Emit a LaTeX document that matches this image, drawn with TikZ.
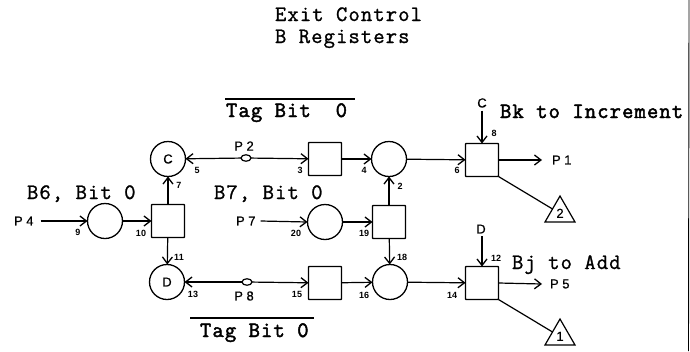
\documentclass[tikz,border=0pt]{standalone}
\usepackage{fontspec}
\setmainfont{Liberation Sans}
\newfontfamily\tw[LetterSpace=5,FakeBold=1.2]{Latin Modern Mono}
\newfontfamily\twb[LetterSpace=5,FakeBold=2.2]{Latin Modern Mono}
\newfontfamily\lb[FakeBold=0.6]{Liberation Sans}
\usetikzlibrary{arrows.meta,shapes.geometric}
\tikzset{
 x=1pt,y=-1pt,
 every node/.style={inner sep=0pt,outer sep=0pt},
 circ/.style={draw,circle,line width=1.3pt,minimum size=35pt},
 sq/.style={draw,rectangle,rounded corners=0.6pt,line width=1.3pt,minimum size=33pt},
 tap/.style={draw,ellipse,line width=1.2pt,minimum width=10pt,minimum height=6.5pt},
 tri/.style={draw,regular polygon,regular polygon sides=3,line width=1.2pt,minimum size=34.6pt},
 conn/.style={line width=1.2pt,-{Straight Barb[length=6.5pt,width=10pt,line width=1.3pt]}},
 plain/.style={line width=1.2pt},
 over/.style={line width=1.6pt},
 big/.style={anchor=base west,font=\tw\fontsize{22}{24}\selectfont},
 bigb/.style={anchor=base west,font=\twb\fontsize{22}{24}\selectfont},
 lab/.style={font=\lb\fontsize{13}{15}\selectfont},
 num/.style={font=\fontsize{9}{10}\selectfont\bfseries},
}
\begin{document}
\begin{tikzpicture}
\useasboundingbox (0,0) rectangle (690,351);
% registers
\node[circ,lab] (c) at (168,159) {C};
\node[circ] (b6) at (105,221) {};
\node[sq] (s10) at (168,221) {};
\node[circ,lab] (d) at (167,282) {D};
\node[sq] (s3) at (325,159) {};
\node[circ] (b7) at (325,222) {};
\node[sq] (s15) at (325,283) {};
\node[circ] (c4) at (389,159) {};
\node[sq] (s19) at (389,222) {};
\node[circ] (c16) at (390,282) {};
\node[sq] (s6) at (482,160) {};
\node[sq] (s14) at (482,283) {};
\node[tap] (p2) at (246,158) {};
\node[tap] (p8) at (247,282) {};
\node[tri,lab] (t2) at (560,213.3) {2};
\node[tri,lab] (t1) at (560,336.3) {1};
% free-end labels
\node[lab,anchor=west] (lp4) at (14,221) {P 4};
\node[lab,anchor=west] (lp7) at (236,221) {P 7};
\node[lab,anchor=west] (lp1) at (552,160) {P 1};
\node[lab,anchor=west] (lp5) at (550,284) {P 5};
\node[lab] (lc) at (482,103) {C};
\node[lab] (ld) at (481,229) {D};
\node[lab] (lp2) at (244,146) {P 2};
\node[lab] (lp8) at (244,296) {P 8};
% connectors
\draw[conn] ([xshift=7pt]lp4.east) -- (b6.west);
\draw[conn] ([xshift=5pt]lp7.east) -- (b7.west);
\draw[conn] (b6) -- (s10);
\draw[conn] (s10) -- (c);
\draw[conn] (s10) -- (d);
\draw[conn] (p2) -- (c);
\draw[conn] (p2) -- (s3);
\draw[conn] (p8) -- (d);
\draw[conn] (p8) -- (s15);
\draw[conn] (s3) -- (c4);
\draw[conn] (b7) -- (s19);
\draw[conn] (s19) -- (c4);
\draw[conn] (s19) -- (c16);
\draw[conn] (s15) -- (c16);
\draw[conn] (c4) -- (s6);
\draw[conn] (c16) -- (s14);
\draw[conn] ([yshift=-3pt]lc.south) -- (s6.north);
\draw[conn] ([yshift=-3pt,xshift=1pt]ld.south) -- (s14.north);
\draw[conn] (s6.east) -- ([xshift=-10pt]lp1.west);
\draw[conn] (s14.east) -- ([xshift=-8pt]lp5.west);
\draw[plain] (s6.south east) -- (t2.side 1);
\draw[plain] (s14.south east) -- (t1.side 1);
% numbers
\foreach \n/\px/\py in {5/197/170,3/300/170,7/179/185,9/78/232,10/141/233,20/296/233,11/179/257,13/193/294,15/297/294,4/364/170,6/457/170,8/494/133,2/400/186,19/364/233,18/402/257,12/496/258,16/364/295,14/452/295}
  \node[num] (n\n) at (\px,\py) {\n};
% titles
\node[big] (t1a) at (275,21) {Exit Control};
\node[big] (t1b) at (275,43) {B Registers};
\node[bigb] (tagtop) at (226,117) {Tag Bit\ \ 0};
\node[bigb] (tagbot) at (200,337) {Tag Bit 0};
\node[bigb] (bk) at (500,118) {Bk to Increment};
\node[big] (bj) at (512,269) {Bj to Add};
\node[big] (b6l) at (27,199) {B6, Bit 0};
\node[big] (b7l) at (214,199) {B7, Bit 0};
% overbars
\coordinate (oa) at (225,99); \coordinate (ob) at (355,99);
\coordinate (oc) at (190,318); \coordinate (od) at (314,318);
\draw[over] (oa) -- (ob);
\draw[over] (oc) -- (od);
% page edge
\coordinate (ea) at (689,0); \coordinate (eb) at (688.5,351);
\draw[line width=0.9pt] (ea) -- (eb);
\end{tikzpicture}
\end{document}
